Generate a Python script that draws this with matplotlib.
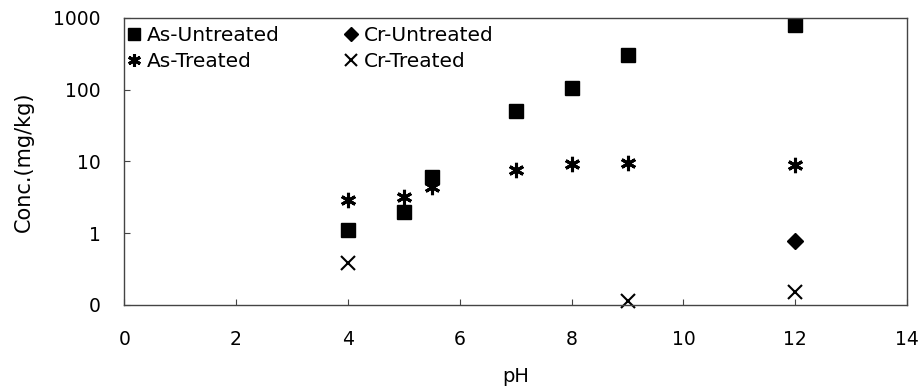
import matplotlib
matplotlib.use("Agg")
import matplotlib.pyplot as plt
from matplotlib.ticker import FixedLocator, FixedFormatter, NullLocator

plt.rcParams["font.family"] = ["DejaVu Sans"]

# values (log axis, bottom label "0" stands for 0.1)
ph_as = [4, 5, 5.5, 7, 8, 9, 12]
as_untreated = [1.1, 2.0, 6.0, 50, 105, 300, 790]
as_treated = [2.9, 3.2, 4.4, 7.5, 9.1, 9.6, 8.9]
ph_cr_u = [12]
cr_untreated = [0.77]
ph_cr_t = [4, 9, 12]
cr_treated = [0.38, 0.115, 0.15]

y_ticks = [0.1, 1, 10, 100, 1000]
y_labels = ["0", "1", "10", "100", "1000"]
x_ticks = [0, 2, 4, 6, 8, 10, 12, 14]

fig = plt.figure(figsize=(9.2, 3.89), dpi=100)
ax = fig.add_axes([0.135, 0.216, 0.851, 0.738])

ax.plot(ph_as, as_untreated, ls="none", marker="s", ms=10, color="black",
        label="As-Untreated")
ax.plot(ph_as, as_treated, ls="none", marker=(6, 2, 0), ms=11, mew=2.2,
        color="black", label="As-Treated")
ax.plot(ph_cr_u, cr_untreated, ls="none", marker="D", ms=8, color="black",
        label="Cr-Untreated")
ax.plot(ph_cr_t, cr_treated, ls="none", marker="x", ms=10, mew=1.5,
        color="black", label="Cr-Treated", clip_on=False)

ax.set_yscale("log")
ax.set_ylim(0.1, 1000)
ax.set_xlim(0, 14)
ax.yaxis.set_major_locator(FixedLocator(y_ticks))
ax.yaxis.set_major_formatter(FixedFormatter(y_labels))
ax.yaxis.set_minor_locator(NullLocator())
ax.set_xticks(x_ticks)

for s in ax.spines.values():
    s.set_color("#444444")
    s.set_linewidth(1.0)
ax.tick_params(direction="in", length=4, width=0.8, colors="#444444",
               labelcolor="black", labelsize=13.5)
ax.tick_params(axis="x", pad=18)
ax.tick_params(axis="y", pad=17)

ax.set_xlabel("pH", fontsize=14, labelpad=13)
ax.set_ylabel("Conc.(mg/kg)", fontsize=15, labelpad=14)

ax.legend(loc="upper left", bbox_to_anchor=(-0.026, 1.035), ncol=2,
          frameon=False, fontsize=14.5, handletextpad=0.05, columnspacing=2.9,
          labelspacing=0.35, handlelength=1.2, markerscale=0.85)

fig.savefig("out.png", dpi=100)
